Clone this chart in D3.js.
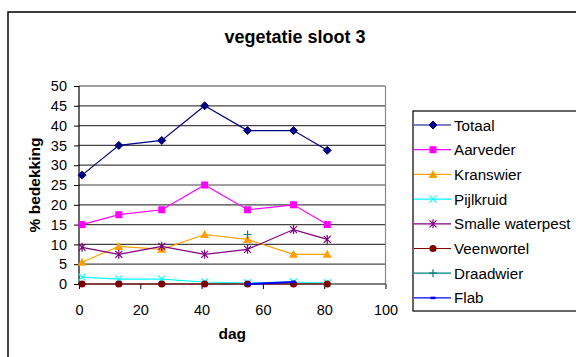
<!DOCTYPE html>
<html>
<head>
<meta charset="utf-8">
<script src="https://cdn.jsdelivr.net/npm/d3@7"></script>
<style>
  html, body { margin: 0; padding: 0; background: #fff; }
  svg { display: block; font-family: "Liberation Sans", Arial, sans-serif; }
</style>
</head>
<body>
<svg id="chart" width="576" height="357"></svg>
<script>
// Sampling days
const days = [1, 13, 27, 41, 55, 70, 81];

// Cover (%) per species
const totaal          = [27.5, 35, 36.25, 45, 38.75, 38.75, 33.75];
const aarveder        = [15, 17.5, 18.75, 25, 18.75, 20, 15];
const kranswier       = [5.5, 9.5, 8.75, 12.5, 11.25, 7.5, 7.5];
const pijlkruid       = [1.75, 1.25, 1.25, 0.5, 0.25, 0.5, 0.25];
const smalleWaterpest = [9.25, 7.5, 9.5, 7.5, 8.75, 13.75, 11.25];
const veenwortel      = [0, 0, 0, 0, 0, 0, 0];
const draadwier       = [null, null, null, null, 12.5, null, null];
const flab            = [null, null, null, null, 0, 0.5, null];

const seriesNames = ["Totaal", "Aarveder", "Kranswier", "Pijlkruid",
                     "Smalle waterpest", "Veenwortel", "Draadwier", "Flab"];
const seriesValues = [totaal, aarveder, kranswier, pijlkruid,
                      smalleWaterpest, veenwortel, draadwier, flab];
const seriesColors = ["#000080", "#FF00FF", "#FFA000", "#00FFFF",
                      "#800080", "#800000", "#008080", "#0000FF"];
const seriesMarkers = ["diamond", "square", "triangle", "x",
                       "asterisk", "circle", "plus", "dash"];

const xTicks = [0, 20, 40, 60, 80, 100];
const yTicks = [0, 5, 10, 15, 20, 25, 30, 35, 40, 45, 50];

const svg = d3.select("#chart");

// Outer chart frame (extends past the right and bottom edges)
svg.append("rect")
  .attr("x", 8).attr("y", 12)
  .attr("width", 600).attr("height", 400)
  .attr("fill", "#fff")
  .attr("stroke", "#000").attr("stroke-width", 1.5);

const plot = { left: 79, right: 385.5, top: 86, bottom: 284 };

const x = d3.scaleLinear().domain([0, 100]).range([plot.left, plot.right]);
const y = d3.scaleLinear().domain([0, 50]).range([plot.bottom, plot.top]);

// Horizontal gridlines
svg.append("g")
  .selectAll("line")
  .data(yTicks.filter(d => d > 0))
  .join("line")
  .attr("x1", plot.left).attr("x2", plot.right)
  .attr("y1", d => y(d)).attr("y2", d => y(d))
  .attr("stroke", "#444").attr("stroke-width", 1.2);

// Right border of the plot area
svg.append("line")
  .attr("x1", plot.right).attr("x2", plot.right)
  .attr("y1", plot.top).attr("y2", plot.bottom)
  .attr("stroke", "#888").attr("stroke-width", 1.2);

// Axes
const xAxis = d3.axisBottom(x).tickValues(xTicks).tickSize(5).tickPadding(16);
const yAxis = d3.axisLeft(y).tickValues(yTicks).tickSize(5).tickPadding(7);

const gx = svg.append("g")
  .attr("transform", `translate(0,${plot.bottom})`)
  .call(xAxis);
const gy = svg.append("g")
  .attr("transform", `translate(${plot.left},0)`)
  .call(yAxis);

[gx, gy].forEach(g => {
  g.select(".domain").attr("stroke", "#000").attr("stroke-width", 1.2);
  g.selectAll(".tick line").attr("stroke", "#000");
  g.selectAll(".tick text")
    .attr("font-family", "Liberation Sans, Arial, sans-serif")
    .attr("font-size", 14.5).attr("fill", "#000");
});
gx.select(".domain").attr("d", `M${plot.left},0H${plot.right}`);
gy.select(".domain").attr("d", `M0,${plot.top}V${plot.bottom}`);

// Marker shapes
function drawMarker(g, type, color) {
  switch (type) {
    case "diamond":
      g.append("path").attr("d", "M0,-4L4,0L0,4L-4,0Z").attr("fill", color).attr("stroke", color);
      break;
    case "square":
      g.append("rect").attr("x", -3.5).attr("y", -3.5).attr("width", 7).attr("height", 7)
        .attr("fill", color);
      break;
    case "triangle":
      g.append("path").attr("d", "M0,-4.5L4.5,3.5L-4.5,3.5Z").attr("fill", color);
      break;
    case "x":
      g.append("path").attr("d", "M-3.5,-3.5L3.5,3.5M-3.5,3.5L3.5,-3.5")
        .attr("stroke", color).attr("stroke-width", 1.2).attr("fill", "none");
      break;
    case "asterisk":
      g.append("path").attr("d", "M-3.5,-3.5L3.5,3.5M-3.5,3.5L3.5,-3.5M0,-4.5L0,4.5")
        .attr("stroke", color).attr("stroke-width", 1.2).attr("fill", "none");
      break;
    case "circle":
      g.append("circle").attr("r", 3.6).attr("fill", color);
      break;
    case "plus":
      g.append("path").attr("d", "M-4,0L4,0M0,-4L0,4")
        .attr("stroke", color).attr("stroke-width", 1.2).attr("fill", "none");
      break;
    case "dash":
      g.append("path").attr("d", "M-2.5,0L2.5,0")
        .attr("stroke", color).attr("stroke-width", 2.5).attr("fill", "none");
      break;
  }
}

// Series lines and markers
const line = d3.line()
  .defined(d => d.v !== null)
  .x(d => x(d.day))
  .y(d => y(d.v));

seriesNames.forEach((name, i) => {
  const pts = days.map((day, j) => ({ day, v: seriesValues[i][j] }));
  const g = svg.append("g");
  g.append("path")
    .datum(pts)
    .attr("d", line)
    .attr("fill", "none")
    .attr("stroke", seriesColors[i])
    .attr("stroke-width", i === 7 ? 2 : 1.2);
  pts.filter(p => p.v !== null).forEach(p => {
    const m = g.append("g").attr("transform", `translate(${x(p.day)},${y(p.v)})`);
    drawMarker(m, seriesMarkers[i], seriesColors[i]);
  });
});

// Title
svg.append("text")
  .attr("x", 295).attr("y", 43)
  .attr("text-anchor", "middle")
  .attr("font-size", 18).attr("font-weight", "bold")
  .text("vegetatie sloot 3");

// Axis titles
svg.append("text")
  .attr("x", (plot.left + plot.right) / 2).attr("y", 339)
  .attr("text-anchor", "middle")
  .attr("font-size", 15.5).attr("font-weight", "bold")
  .text("dag");

svg.append("text")
  .attr("transform", `translate(40,${(plot.top + plot.bottom) / 2}) rotate(-90)`)
  .attr("text-anchor", "middle")
  .attr("font-size", 15.5).attr("font-weight", "bold")
  .text("% bedekking");

// Legend
const legend = svg.append("g");
legend.append("rect")
  .attr("x", 413).attr("y", 111)
  .attr("width", 200).attr("height", 200)
  .attr("fill", "#fff").attr("stroke", "#000").attr("stroke-width", 1.2);

seriesNames.forEach((name, i) => {
  const ly = 125 + i * 24.7;
  const row = legend.append("g").attr("transform", `translate(0,${ly})`);
  row.append("line")
    .attr("x1", 414).attr("x2", 451).attr("y1", 0).attr("y2", 0)
    .attr("stroke", seriesColors[i]).attr("stroke-width", 1.2);
  const m = row.append("g").attr("transform", "translate(433,0)");
  drawMarker(m, seriesMarkers[i], seriesColors[i]);
  row.append("text")
    .attr("x", 454).attr("y", 5.5)
    .attr("font-size", 15.2)
    .text(name);
});
</script>
</body>
</html>
